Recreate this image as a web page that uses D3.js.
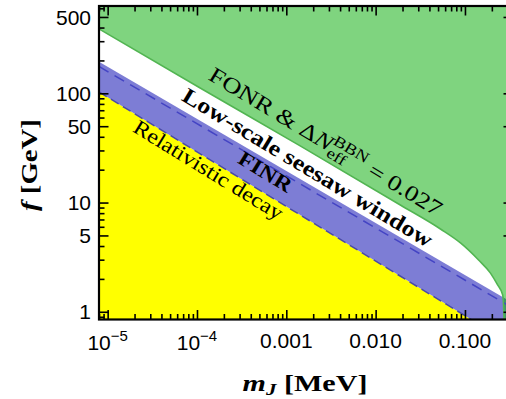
<!DOCTYPE html>
<html><head><meta charset="utf-8">
<script src="https://cdn.jsdelivr.net/npm/d3@7"></script>
<style>html,body{margin:0;padding:0;background:#fff;} svg{display:block;}</style>
</head><body>
<svg id="chart" width="506" height="399"></svg>
<script>
// ---------------- data ----------------
const xDomain = [8e-6, 0.345];            // m_J [MeV]
const yDomain = [0.85, 630];              // f [GeV]
const xTickValues = [1e-5, 1e-4, 1e-3, 1e-2, 1e-1];
const xTickLabels = ["10^−5", "10^−4", "0.001", "0.010", "0.100"];
const yTickValues = [1, 5, 10, 50, 100, 500];
const yTickLabels = ["1", "5", "10", "50", "100", "500"];

// Relativistic decay boundary (top of yellow)
const relativisticM = [8e-6, 0.345];
const relativisticF = [103, 0.496];
// FINR band upper edge
const finrUpperM = [8e-6, 0.345];
const finrUpperF = [195, 1.20];
// FINR dashed line
const finrDashM = [8e-6, 0.345];
const finrDashF = [176, 1.08];
// FONR & ΔN_eff boundary (bottom of green)
const fonrM = [8e-6, 1.085e-4, 1.43e-3, 0.0189, 0.0532, 0.0891, 0.142, 0.193, 0.232, 0.264, 0.2705, 0.274];
const fonrF = [389, 112, 33, 9.5, 5.73, 4.27, 2.98, 2.26, 1.76, 1.43, 1.15, 0.85];

// ---------------- layout ----------------
const plot = {left: 99, right: 513, top: 6, bottom: 319.5};
const x = d3.scaleLog().domain(xDomain).range([plot.left, plot.right]);
const y = d3.scaleLog().domain(yDomain).range([plot.bottom, plot.top]);
const svg = d3.select("#chart");
const serif = "'Liberation Serif','Times New Roman',serif";
const sans = "'Liberation Sans',Arial,sans-serif";

svg.append("defs").append("clipPath").attr("id", "clip").append("rect")
  .attr("x", plot.left).attr("y", plot.top)
  .attr("width", plot.right - plot.left).attr("height", plot.bottom - plot.top);
const g = svg.append("g").attr("clip-path", "url(#clip)");
const pts = (M, F) => M.map((m, i) => ({m, f: F[i]}));
const rel = pts(relativisticM, relativisticF);
const finrU = pts(finrUpperM, finrUpperF);
const finrD = pts(finrDashM, finrDashF);
const fonr = pts(fonrM, fonrF);

// yellow region
g.append("path")
  .attr("d", d3.area().x(d => x(d.m)).y0(plot.bottom).y1(d => y(d.f))(rel))
  .attr("fill", "#ffff00");
// blue FINR band
g.append("path")
  .attr("d", d3.area().x(d => x(d.m)).y0((d, i) => y(rel[i].f)).y1(d => y(d.f))(finrU))
  .attr("fill", "#7d7dd5");
// green region
const curve = d3.line().x(d => x(d.m)).y(d => y(d.f)).curve(d3.curveMonotoneX);
g.append("path")
  .attr("d", curve(fonr) + `L${plot.right},${plot.bottom}L${plot.right},${plot.top}L${plot.left},${plot.top}Z`)
  .attr("fill", "rgba(0,170,0,0.5)");
// lines
const straight = d3.line().x(d => x(d.m)).y(d => y(d.f));
g.append("path").attr("d", straight(rel)).attr("fill", "none")
  .attr("stroke", "#4a4aa6").attr("stroke-width", 1.5).attr("stroke-dasharray", "9,5");
g.append("path").attr("d", straight(finrD)).attr("fill", "none")
  .attr("stroke", "#4444c4").attr("stroke-width", 1.5).attr("stroke-dasharray", "11,7");
g.append("path").attr("d", curve(fonr)).attr("fill", "none")
  .attr("stroke", "#52b552").attr("stroke-width", 1.6);

// ---------------- labels ----------------
function measure(txt, fs, weight, style) {
  const t = svg.append("text").attr("font-family", serif).attr("font-size", fs)
    .attr("font-weight", weight || "normal").attr("font-style", style || "normal").text(txt);
  const w = t.node().getComputedTextLength();
  t.remove();
  return w;
}
function placeLabel(cx, cy, angle, target, fs, weight, build) {
  const outer = svg.append("g").attr("transform", `translate(${cx},${cy}) rotate(${angle})`);
  const inner = outer.append("g");
  const t = inner.append("text").attr("font-family", serif).attr("font-size", fs)
    .attr("font-weight", weight).attr("fill", "#000");
  build(t, fs, weight);
  const bb = t.node().getBBox();
  const s = target / bb.width;
  inner.attr("transform", `scale(${s},1) translate(${-(bb.x + bb.width / 2)},0)`);
}

placeLabel(322, 148, 31, 268, 22, "normal", (t, fs, w) => {
  t.append("tspan").text("FONR & Δ");
  t.append("tspan").attr("font-style", "italic").text("N");
  const effW = measure("eff", fs * 0.7, w);
  t.append("tspan").attr("font-size", fs * 0.7).attr("dy", 5).text("eff");
  t.append("tspan").attr("font-size", fs * 0.7).attr("dx", -effW).attr("dy", -14).text("BBN");
  t.append("tspan").attr("dy", 9).text(" = 0.027");
});
placeLabel(304, 174, 31, 288, 22, "bold", t => t.text("Low-scale seesaw window"));
placeLabel(262, 178, 31.5, 60, 21, "bold", t => t.text("FINR"));
placeLabel(205, 176, 31.5, 172, 21, "normal", t => t.text("Relativistic decay"));

// axis titles
placeLabel(37, 165, -90, 92, 24, "bold", t => {
  t.append("tspan").attr("font-style", "italic").text("f");
  t.append("tspan").text(" [GeV]");
});
placeLabel(305, 391, 0, 125, 24, "bold", (t, fs) => {
  t.append("tspan").attr("font-style", "italic").text("m");
  t.append("tspan").attr("font-style", "italic").attr("font-size", fs * 0.7).attr("dy", 4).text("J");
  t.append("tspan").attr("dy", -4).text(" [MeV]");
});

// ---------------- axes / ticks ----------------
function minorValues(domain, majors) {
  const out = [];
  for (let e = Math.floor(Math.log10(domain[0])); e <= Math.ceil(Math.log10(domain[1])); e++) {
    for (let k = 1; k < 10; k++) {
      const v = k * Math.pow(10, e);
      if (v >= domain[0] * 0.999 && v <= domain[1] * 1.001 &&
          !majors.some(M => Math.abs(M - v) / M < 1e-6)) out.push(v);
    }
  }
  return out;
}
const xMinor = minorValues(xDomain, xTickValues);
const yMinor = minorValues(yDomain, yTickValues);
const axes = svg.append("g");
function addAxis(axisFn, scale, vals, size, tr) {
  const a = axes.append("g").attr("transform", tr)
    .call(axisFn(scale).tickValues(vals).tickSize(-size).tickSizeOuter(0).tickFormat(""));
  a.select(".domain").remove();
  a.selectAll("line").attr("stroke", "#000").attr("stroke-width", 1.6);
}
[[xTickValues, 9.5], [xMinor, 5.5]].forEach(([v, s]) => {
  addAxis(d3.axisBottom, x, v, s, `translate(0,${plot.bottom})`);
  addAxis(d3.axisTop, x, v, s, `translate(0,${plot.top})`);
});
[[yTickValues, 9.5], [yMinor, 5.5]].forEach(([v, s]) => {
  addAxis(d3.axisLeft, y, v, s, `translate(${plot.left},0)`);
  addAxis(d3.axisRight, y, v, s, `translate(${plot.right},0)`);
});
axes.append("rect").attr("x", plot.left).attr("y", plot.top)
  .attr("width", plot.right - plot.left).attr("height", plot.bottom - plot.top)
  .attr("fill", "none").attr("stroke", "#000").attr("stroke-width", 2.2);

// tick labels
xTickValues.forEach((v, i) => {
  const lab = xTickLabels[i];
  const t = axes.append("text").attr("x", x(v)).attr("y", 348)
    .attr("text-anchor", "middle").attr("font-family", sans).attr("font-size", 21).attr("fill", "#000");
  if (lab.includes("^")) {
    const [b, e] = lab.split("^");
    t.attr("y", 350);
    t.append("tspan").text(b);
    t.append("tspan").attr("font-size", 15).attr("dy", -9).text(e);
  } else t.text(lab);
});
yTickValues.forEach((v, i) => {
  axes.append("text").attr("x", 91).attr("y", y(v)).attr("dy", "0.36em")
    .attr("text-anchor", "end").attr("font-family", sans).attr("font-size", 21).attr("fill", "#000")
    .text(yTickLabels[i]);
});
</script>
</body></html>
